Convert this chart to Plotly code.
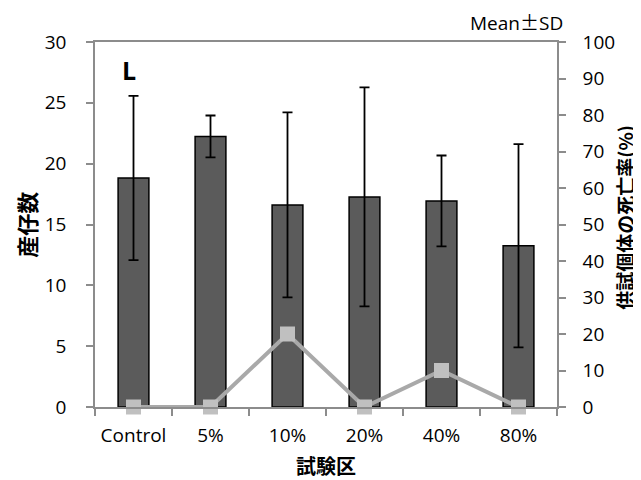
import plotly.graph_objects as go

categories = ["Control", "5%", "10%", "20%", "40%", "80%"]
offspring_mean = [18.83, 22.24, 16.61, 17.27, 16.94, 13.25]
offspring_sd = [6.75, 1.72, 7.6, 9.0, 3.73, 8.35]
mortality_pct = [0, 0, 20, 0, 10, 0]
left_ticks = [0, 5, 10, 15, 20, 25, 30]
right_ticks = [0, 10, 20, 30, 40, 50, 60, 70, 80, 90, 100]

tick_font = dict(family="Open Sans, sans-serif", size=19, color="#000000")
jp = "Noto Sans CJK JP"
axis_gray = "#8c8c8c"

fig = go.Figure()
fig.add_trace(go.Bar(
    x=categories, y=offspring_mean,
    marker=dict(color="#5b5b5b", line=dict(color="#000000", width=1.5)),
    error_y=dict(type="data", array=offspring_sd, visible=True,
                 color="#000000", thickness=1.8, width=5),
    showlegend=False, yaxis="y",
))
fig.add_trace(go.Scatter(
    x=categories, y=mortality_pct, yaxis="y2", mode="lines+markers",
    line=dict(color="#a9a9a9", width=4),
    marker=dict(symbol="square", size=15, color="#c0c0c0"),
    cliponaxis=False, showlegend=False,
))

# page body adds an 8px offset; margins compensate so the plot area sits at
# x 95..557, y 42..407 in the window
fig.update_layout(
    width=641, height=480,
    margin=dict(l=87, r=92, t=34, b=81),
    plot_bgcolor="#ffffff", paper_bgcolor="#ffffff",
    bargap=0.6,
    xaxis=dict(
        type="category", range=[-0.5, 5.5], tickson="boundaries",
        ticks="outside", ticklen=7, tickcolor=axis_gray, tickwidth=1.5,
        showline=True, linecolor=axis_gray, linewidth=1.5, mirror=True,
        showgrid=False, tickfont=tick_font, ticklabelstandoff=10,
    ),
    yaxis=dict(
        range=[0, 30], tickvals=left_ticks, ticks="outside", ticklen=7,
        tickcolor=axis_gray, tickwidth=1.5, showline=True,
        linecolor=axis_gray, linewidth=1.5, showgrid=False, zeroline=False,
        tickfont=tick_font, ticklabelstandoff=16,
    ),
    yaxis2=dict(
        range=[0, 100], tickvals=right_ticks, overlaying="y", side="right",
        ticks="outside", ticklen=7, tickcolor=axis_gray, tickwidth=1.5,
        showline=True, linecolor=axis_gray, linewidth=1.5, showgrid=False,
        zeroline=False, tickfont=tick_font, ticklabelstandoff=13,
    ),
    annotations=[
        dict(text="<b>産仔数</b>", xref="paper", yref="paper", x=-0.151, y=0.5,
             textangle=-90, showarrow=False,
             font=dict(family=jp, size=22, color="#000000"),
             xanchor="center", yanchor="middle"),
        dict(text="<b>供試個体の死亡率(%)</b>", xref="paper", yref="paper",
             x=1.146, y=0.52, textangle=-90, showarrow=False,
             font=dict(family=jp, size=19, color="#000000"),
             xanchor="center", yanchor="middle"),
        dict(text="<b>試験区</b>", xref="paper", yref="paper", x=0.5, y=-0.16,
             showarrow=False, font=dict(family=jp, size=20, color="#000000"),
             xanchor="center", yanchor="middle"),
        dict(text="<b>L</b>", xref="paper", yref="paper", x=0.074, y=0.923,
             showarrow=False,
             font=dict(family="Open Sans, sans-serif", size=25, color="#000000"),
             xanchor="center", yanchor="middle"),
        dict(text="Mean<span style=\"font-family:'Noto Sans CJK JP'\">±</span>SD",
             xref="paper", yref="paper", x=0.913, y=1.055,
             showarrow=False,
             font=dict(family="Open Sans, sans-serif", size=19, color="#000000"),
             xanchor="center", yanchor="middle"),
    ],
)

fig.write_html("out.html")
